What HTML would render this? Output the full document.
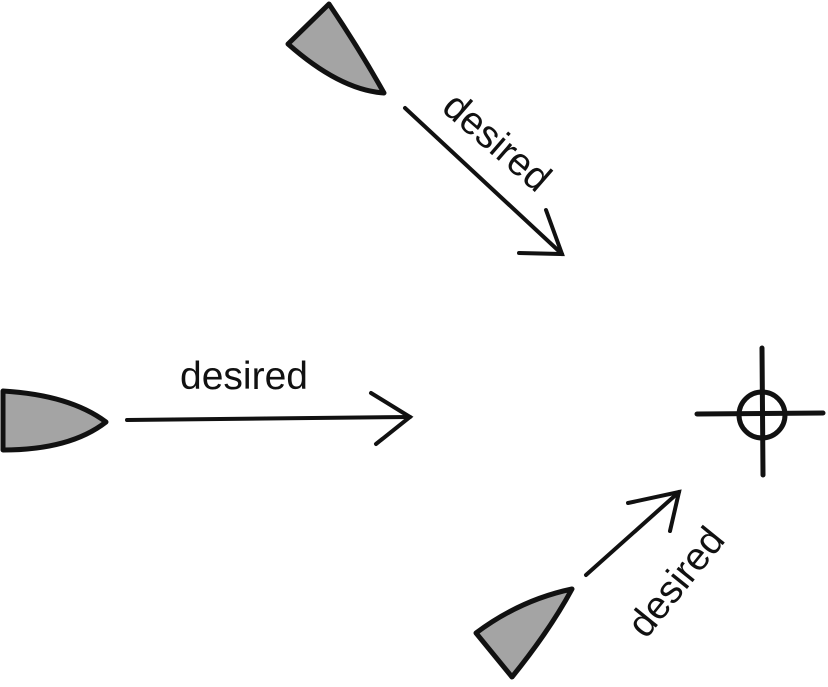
<!DOCTYPE html>
<html><head><style>body{margin:0;background:#fff}</style></head><body>
<svg width="828" height="682" xmlns="http://www.w3.org/2000/svg" font-family="Liberation Sans, sans-serif">
<g stroke="#111" stroke-width="5" stroke-linejoin="round" fill="#a4a4a4">
<path d="M288,44 L329,4 Q360,50 384,93 Q340,90 288,44 Z"/>
<path d="M3,391 Q70,395 106,422 Q70,450 3,450 Z"/>
<path d="M476,633 L512,677 Q550,630 572,589 Q520,600 476,633 Z"/>
</g>
<g stroke="#111" stroke-width="4" fill="none" stroke-linecap="round">
<line x1="405" y1="108" x2="562" y2="254"/>
<polyline points="546,210 562,254 519,253"/>
<line x1="127" y1="420" x2="410" y2="417"/>
<polyline points="371,393 410,417 376,444"/>
<line x1="586" y1="575" x2="679" y2="492"/>
<polyline points="628,503 679,492 670,531"/>
</g>
<g stroke="#111" stroke-width="5" fill="none" stroke-linecap="round">
<line x1="697" y1="414" x2="823" y2="413"/>
<line x1="762" y1="348" x2="763" y2="475"/>
<circle cx="762" cy="415" r="23"/>
</g>
<g font-size="39" fill="#111">
<text x="244" y="389" text-anchor="middle" textLength="128" lengthAdjust="spacingAndGlyphs">desired</text>
<text transform="translate(497,142) rotate(41)" text-anchor="middle" dy="13">desired</text>
<text transform="translate(676,582) rotate(-51)" text-anchor="middle" dy="13">desired</text>
</g>
</svg>
</body></html>
